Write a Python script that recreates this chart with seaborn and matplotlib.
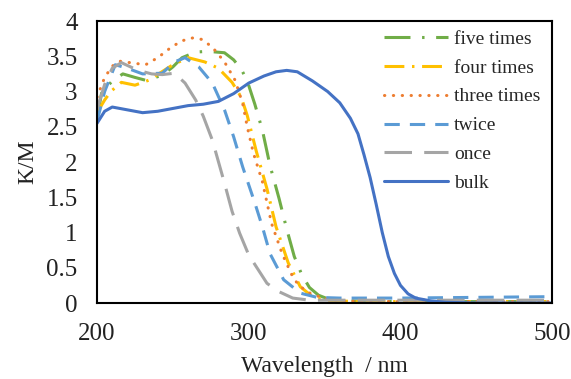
import matplotlib
matplotlib.use('Agg')
import matplotlib.pyplot as plt
import seaborn as sns
import pandas as pd
from matplotlib.ticker import MultipleLocator

# Values (wavelength in nm, K/M)
five_x = [200, 203, 210, 217, 225, 232, 243, 250, 256, 265, 273, 284, 290, 295, 299, 304, 309, 314, 320, 325, 330, 335, 340, 346, 352, 365, 400, 500]
five_y = [2.62, 2.98, 3.15, 3.25, 3.20, 3.16, 3.23, 3.35, 3.48, 3.56, 3.57, 3.55, 3.45, 3.32, 3.15, 2.82, 2.45, 1.95, 1.48, 1.05, 0.66, 0.40, 0.22, 0.11, 0.06, 0.03, 0.02, 0.02]

four_x = [200, 205, 209, 216, 225, 234, 242, 250, 260, 271, 280, 289, 295, 299, 305, 312, 318, 326, 334, 342, 350, 370, 500]
four_y = [2.70, 2.88, 3.00, 3.13, 3.09, 3.16, 3.27, 3.38, 3.48, 3.42, 3.33, 3.13, 2.92, 2.66, 2.15, 1.62, 1.08, 0.57, 0.23, 0.09, 0.04, 0.02, 0.02]

three_x = [200, 205, 210, 215, 225, 232, 240, 249, 256, 263, 269, 276, 284, 291, 296, 299, 303, 309, 315, 322, 329, 332, 338, 349, 360, 400, 500]
three_y = [2.92, 3.20, 3.36, 3.43, 3.40, 3.38, 3.48, 3.63, 3.72, 3.76, 3.74, 3.63, 3.42, 3.16, 2.83, 2.50, 2.13, 1.72, 1.13, 0.70, 0.37, 0.28, 0.16, 0.07, 0.03, 0.02, 0.02]

twice_x = [200, 205, 212, 220, 230, 243, 251, 258, 267, 276, 284, 290, 296, 304, 309, 314, 323, 334, 345, 360, 400, 450, 500]
twice_y = [2.58, 3.00, 3.38, 3.33, 3.25, 3.26, 3.42, 3.48, 3.35, 3.12, 2.74, 2.36, 1.93, 1.42, 1.08, 0.70, 0.33, 0.14, 0.08, 0.07, 0.07, 0.08, 0.09]

once_x = [200, 205, 210, 216, 227, 236, 243, 251, 258, 265, 270, 276, 284, 289, 294, 300, 306, 312, 319, 329, 340, 400, 500]
once_y = [2.75, 3.10, 3.33, 3.41, 3.30, 3.25, 3.24, 3.26, 3.12, 2.88, 2.65, 2.31, 1.70, 1.30, 0.99, 0.68, 0.48, 0.28, 0.17, 0.07, 0.04, 0.04, 0.04]

bulk_x = [200, 205, 210, 220, 230, 240, 250, 260, 270, 280, 290, 300, 310, 318, 325, 332, 342, 352, 360, 367, 372, 376, 380, 384, 388, 392, 396, 400, 405, 410, 420, 430, 450, 500]
bulk_y = [2.55, 2.72, 2.78, 2.74, 2.70, 2.72, 2.76, 2.80, 2.82, 2.86, 2.97, 3.12, 3.22, 3.28, 3.30, 3.28, 3.15, 3.00, 2.84, 2.62, 2.40, 2.10, 1.78, 1.40, 1.00, 0.66, 0.42, 0.25, 0.13, 0.07, 0.03, 0.01, 0.00, 0.00]

labels = ['five times', 'four times', 'three times', 'twice', 'once', 'bulk']
xs = [five_x, four_x, three_x, twice_x, once_x, bulk_x]
ys = [five_y, four_y, three_y, twice_y, once_y, bulk_y]

colors = ['#70AD47', '#FFC000', '#ED7D31', '#5B9BD5', '#A5A5A5', '#4472C4']
styles = [(0, (8.5, 3.8, 0.8, 3.8)), (0, (6.5, 2.5, 0.8, 2.5)), (0, (0.1, 2.8)),
          (0, (5, 3.3)), (0, (9, 4)), '-']

sns.set_style('white')
plt.rcParams['font.family'] = ['Liberation Serif', 'DejaVu Serif']

fig = plt.figure(figsize=(5.71, 3.79), dpi=100)
ax = fig.add_axes([0.170, 0.2005, 0.797, 0.744])

for lab, x, y, c, ls in zip(labels, xs, ys, colors, styles):
    df = pd.DataFrame({'wl': x, 'km': y})
    capstyle = 'round' if lab == 'three times' else 'butt'
    sns.lineplot(data=df, x='wl', y='km', ax=ax, color=c, linestyle=ls,
                 linewidth=2.2, label=lab, dash_capstyle=capstyle)

ax.set_xlim(200, 500)
ax.set_ylim(0, 4)
ax.xaxis.set_major_locator(MultipleLocator(100))
ax.xaxis.set_minor_locator(MultipleLocator(20))
ax.yaxis.set_major_locator(MultipleLocator(0.5))
ax.yaxis.set_major_formatter(plt.FuncFormatter(lambda v, p: f'{v:g}'))

ax.tick_params(axis='both', which='both', direction='in', length=4, width=1.2,
               color='black', labelsize=18, labelcolor='#222222')
ax.tick_params(axis='y', pad=14)
ax.tick_params(axis='x', pad=14.5)

for sp in ax.spines.values():
    sp.set_color('black')
    sp.set_linewidth(1.5)

ax.set_xlabel('Wavelength  / nm', fontsize=17, labelpad=8, color='#222222')
ax.set_ylabel('K/M', fontsize=17, labelpad=6, color='#222222')

ax.legend(loc='upper left', bbox_to_anchor=(0.63, 0.968), frameon=False,
          fontsize=14, handlelength=3.3, handletextpad=0.3,
          labelspacing=0.58, borderaxespad=0, borderpad=0)

fig.savefig('out.png', dpi=100)
